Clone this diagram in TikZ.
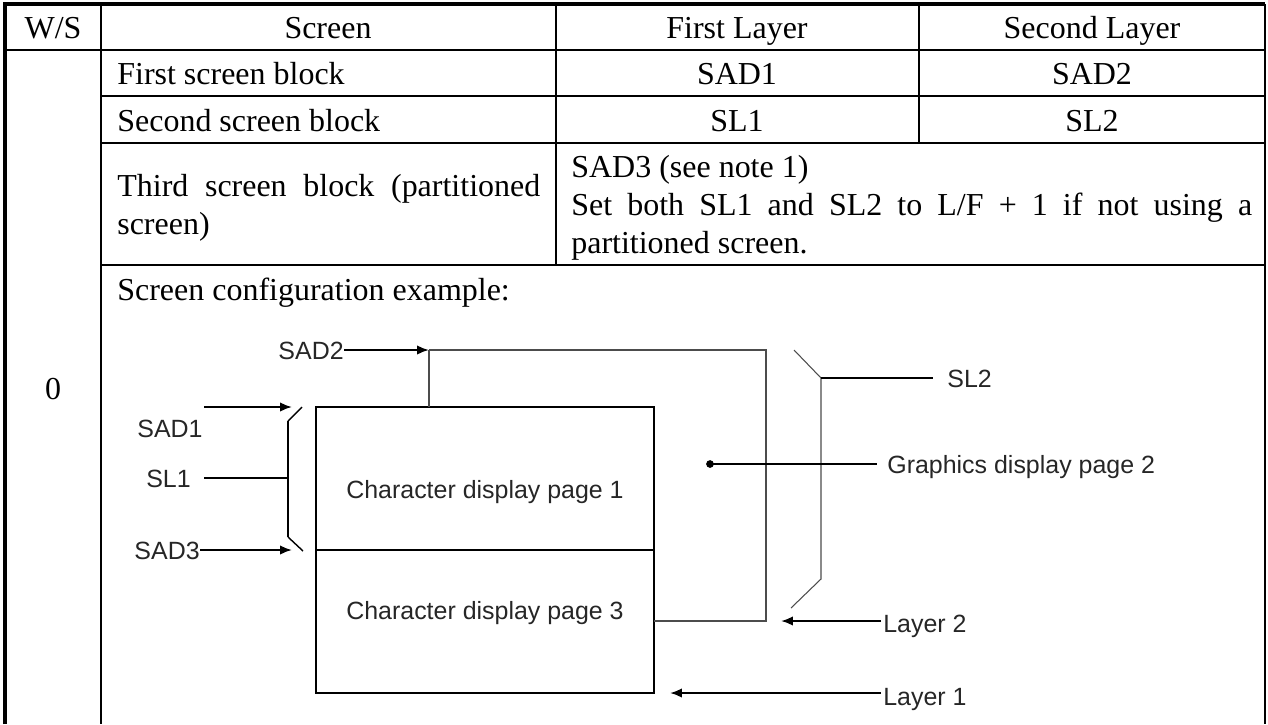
\documentclass[tikz,border=0pt]{standalone}
\usepackage{fontspec}
\setmainfont{Liberation Serif}
\newfontfamily\diagfont{Liberation Sans}
\usetikzlibrary{arrows.meta}

\tikzset{
  cell/.style={inner sep=0pt, font=\fontsize{18.2}{21.6}\selectfont},
  lbl/.style={inner sep=0pt, text=black!85, font=\diagfont\fontsize{14.2}{17}\selectfont},
  rule/.style={line width=0.8pt},
  frame/.style={line width=2.3pt},
  heavy/.style={line width=1.2pt},
  light/.style={line width=0.6pt, black!70},
  arr/.style={-{Latex[length=6.8pt,width=5.4pt]}},
}

\begin{document}
\begin{tikzpicture}[x=0.02cm,y=-0.02cm]
\useasboundingbox (0,0) rectangle (1268,724);

% table rules
\draw[frame] (5,724) -- (5,4) -- (1265,4);
\draw[rule] (1265,4) -- (1265,724);
\draw[rule] (5,50) -- (1265,50);
\draw[rule] (101,96) -- (1265,96);
\draw[rule] (101,143) -- (1265,143);
\draw[rule] (101,265) -- (1265,265);
\draw[rule] (101,4) -- (101,724);
\draw[rule] (556,4) -- (556,265);
\draw[rule] (919,4) -- (919,143);

% header
\node[cell, anchor=base] (ws) at (53,38) {W/S};
\node[cell, anchor=base] (scr) at (328,38) {Screen};
\node[cell, anchor=base] (firstL) at (737,38) {First Layer};
\node[cell, anchor=base] (secondL) at (1092,38) {Second Layer};

% rows
\node[cell, anchor=base west] (blk1) at (117,84) {First screen block};
\node[cell, anchor=base] (blk1a) at (737,84) {SAD1};
\node[cell, anchor=base] (blk1b) at (1092,84) {SAD2};
\node[cell, anchor=base west] (blk2) at (117,131) {Second screen block};
\node[cell, anchor=base] (blk2a) at (737,131) {SL1};
\node[cell, anchor=base] (blk2b) at (1092,131) {SL2};
\node[cell, anchor=base west] (blk3) at (117,196) {\makebox[8.46cm][s]{Third screen block (partitioned}};
\node[cell, anchor=base west] (blk3x) at (117,234) {screen)};
\node[cell, anchor=base west] (note1) at (571,177) {SAD3 (see note 1)};
\node[cell, anchor=base west] (note2) at (571,215) {\makebox[13.62cm][s]{Set both SL1 and SL2 to L/F + 1 if not using a}};
\node[cell, anchor=base west] (note3) at (571,253) {partitioned screen.};
\node[cell, anchor=base west] (example) at (117,300) {Screen configuration example:};
\node[cell, anchor=base] (wsval) at (53,399) {0};

% character display pages (layer 1)
\coordinate (boxTL) at (316,407);
\coordinate (boxBR) at (654,693);
\coordinate (midL) at (316,550);
\coordinate (midR) at (654,550);
\draw[heavy] (boxTL) rectangle (boxBR);
\draw[heavy] (midL) -- (midR);
\node[lbl] (page1) at (485,492) {Character display page 1};
\node[lbl] (page3) at (485,613) {Character display page 3};

% graphics page outline (layer 2)
\coordinate (sad2tail) at (344,350);
\coordinate (sad2head) at (429,350);
\coordinate (tap) at (429,407);
\coordinate (l2TR) at (766,350);
\coordinate (l2BR) at (766,621);
\coordinate (l2BL) at (654,621);
\draw[light] (sad2head) -- (l2TR) -- (l2BR) -- (l2BL);
\draw[light] (sad2head) -- (tap);
\node[lbl, anchor=base east] (sad2) at (344,359) {SAD2};
\draw[heavy,arr] (sad2tail) -- (sad2head);

% left switch
\coordinate (sad1tail) at (204,407);
\coordinate (sad1head) at (292,407);
\coordinate (sw1a) at (288,421);
\coordinate (sw1b) at (302,407);
\coordinate (sl1tail) at (204,478);
\coordinate (sl1join) at (288,478);
\coordinate (sw3a) at (288,537);
\coordinate (sw3b) at (303,551);
\coordinate (sad3tail) at (200,550);
\coordinate (sad3head) at (292,550);
\draw[heavy,arr] (sad1tail) -- (sad1head);
\node[lbl, anchor=base] (sad1) at (170,437) {SAD1};
\draw[rule] (sw1a) -- (sw1b);
\draw[heavy] (sw1a) -- (sw3a);
\draw[rule] (sw3a) -- (sw3b);
\draw[heavy] (sl1tail) -- (sl1join);
\node[lbl, anchor=base east] (sl1) at (191,487) {SL1};
\draw[heavy,arr] (sad3tail) -- (sad3head);
\node[lbl, anchor=base east] (sad3) at (200,559) {SAD3};

% right switch
\coordinate (sl2a) at (794,350);
\coordinate (sl2b) at (821,378);
\coordinate (sl2c) at (821,579);
\coordinate (sl2d) at (791,608);
\coordinate (sl2end) at (933,378);
\draw[light] (sl2a) -- (sl2b) -- (sl2c) -- (sl2d);
\draw[heavy] (sl2b) -- (sl2end);
\node[lbl, anchor=base west] (sl2) at (947,387) {SL2};

% graphics pointer
\coordinate (gdot) at (710,464);
\coordinate (gend) at (877,464);
\fill (gdot) circle[radius=2.2pt];
\draw[heavy] (gdot) -- (gend);
\node[lbl, anchor=base west] (graph2) at (887,473) {Graphics display page 2};

% layer arrows
\coordinate (lay2tail) at (881,621);
\coordinate (lay2head) at (781,621);
\coordinate (lay1tail) at (881,693);
\coordinate (lay1head) at (670,693);
\draw[heavy,arr] (lay2tail) -- (lay2head);
\draw[heavy,arr] (lay1tail) -- (lay1head);
\node[lbl, anchor=base west] (layer2) at (883,632) {Layer 2};
\node[lbl, anchor=base west] (layer1) at (883,705) {Layer 1};
\end{tikzpicture}
\end{document}
